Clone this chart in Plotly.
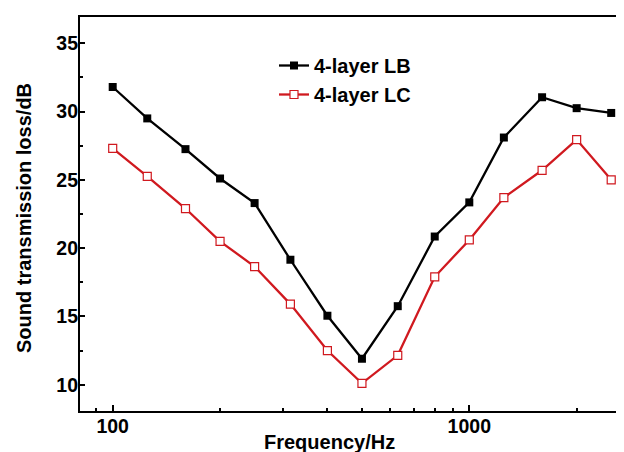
import plotly.graph_objects as go

freq = [100, 125, 160, 200, 250, 315, 400, 500, 630, 800, 1000, 1250, 1600, 2000, 2500]
lb = [31.8, 29.5, 27.25, 25.1, 23.3, 19.15, 15.05, 11.9, 15.75, 20.85, 23.35, 28.1, 31.05, 30.25, 29.9]
lc = [27.3, 25.25, 22.9, 20.5, 18.65, 15.9, 12.5, 10.1, 12.15, 17.9, 20.6, 23.7, 25.7, 27.95, 25.0]

y_major = [10, 15, 20, 25, 30, 35]

FONT = "Liberation Sans, Arial, sans-serif"
RED = "#d0191f"

# the page body has an 8px margin: figure is drawn 8px right/down in the window
OFF = 8
W, H = 624 - OFF, 452 - OFF
# plot area in window pixels
PL, PR, PT, PB = 79, 623, 16, 412
ML, MR, MT, MB = PL - OFF, W - (PR - OFF), PT - OFF, H - (PB - OFF)
PW, PH = PR - PL, PB - PT


def px_x(x):
    return (x - PL) / PW


def px_y(y):
    return (PB - y) / PH


fig = go.Figure()
fig.add_trace(go.Scatter(
    x=freq, y=lb, name="4-layer LB", mode="lines+markers",
    line=dict(color="black", width=2.3),
    marker=dict(symbol="square", size=8, color="black"),
))
fig.add_trace(go.Scatter(
    x=freq, y=lc, name="4-layer LC", mode="lines+markers",
    line=dict(color=RED, width=2.3),
    marker=dict(symbol="square", size=8, color="white", line=dict(color=RED, width=1.2)),
))

fig.update_layout(
    width=W, height=H,
    margin=dict(l=ML, r=MR, t=MT, b=MB, autoexpand=False),
    paper_bgcolor="white", plot_bgcolor="white",
    font=dict(family=FONT, color="black"),
    showlegend=True,
    legend=dict(
        x=px_x(274), y=px_y(46), xanchor="left", yanchor="top",
        bgcolor="rgba(0,0,0,0)", borderwidth=0,
        font=dict(family=FONT, size=20, weight="bold", color="black"),
        tracegroupgap=0, itemwidth=30,
    ),
    shapes=[dict(type="rect", xref="paper", yref="paper", x0=0, x1=1, y0=0, y1=1,
                 line=dict(color="#000000", width=2), fillcolor="rgba(0,0,0,0)", layer="above")],
    annotations=[
        dict(text="Frequency/Hz", xref="paper", yref="paper",
             x=px_x(329), y=px_y(455), xanchor="center", yanchor="bottom",
             showarrow=False, font=dict(family=FONT, size=20, weight="bold", color="black")),
        dict(text="Sound transmission loss/dB", xref="paper", yref="paper",
             x=px_x(24), y=px_y(218), xanchor="center", yanchor="middle",
             textangle=-90, showarrow=False,
             font=dict(family=FONT, size=20, weight="bold", color="black")),
    ],
)

fig.update_xaxes(
    type="log", range=[1.9055, 3.431], automargin=False,
    tickmode="linear", tick0=0, dtick=1,
    ticks="inside", ticklen=7, tickwidth=2, tickcolor="black",
    minor=dict(dtick="D1", ticks="inside", ticklen=4, tickwidth=2,
               tickcolor="black", showgrid=False),
    showline=False, showgrid=False, zeroline=False,
    tickfont=dict(family=FONT, size=19.5, weight="bold", color="black"),
)
fig.update_yaxes(
    range=[8, 37], automargin=False,
    tickmode="array", tickvals=y_major,
    ticks="inside", ticklen=6, tickwidth=2, tickcolor="black",
    minor=dict(dtick=2.5, tick0=7.5, ticks="inside", ticklen=4, tickwidth=2,
               tickcolor="black", showgrid=False),
    showline=False, showgrid=False, zeroline=False,
    tickfont=dict(family=FONT, size=19.5, weight="bold", color="black"),
)

fig.write_html("out.html")
